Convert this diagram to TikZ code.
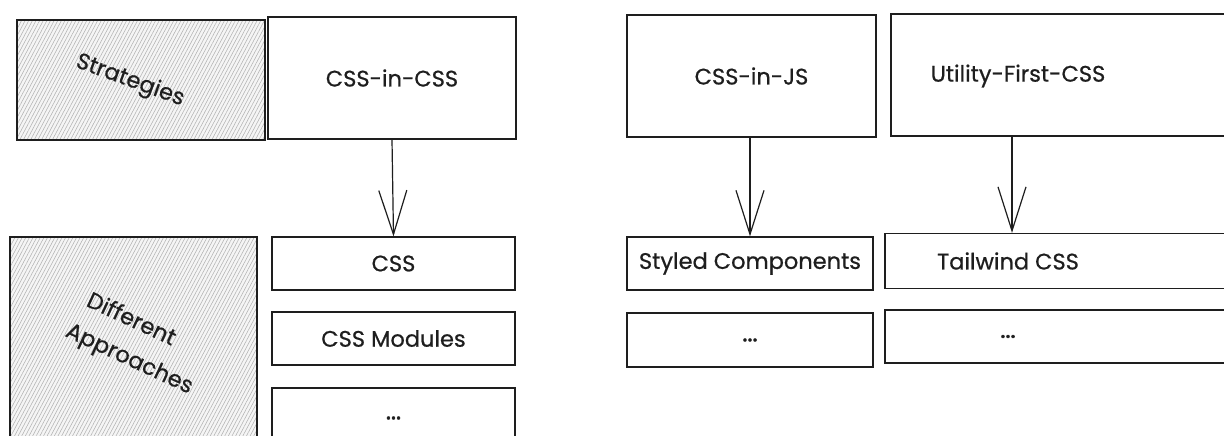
\documentclass[tikz,border=0pt]{standalone}
\usepackage{fontspec}
\setmainfont{Poppins}
\newfontfamily\hand{Poppins}[FakeBold=0.6]
\newfontfamily\handdots{Poppins}[FakeBold=2]
\usetikzlibrary{arrows.meta,patterns.meta}
\definecolor{ink}{HTML}{1E1E1E}
\begin{document}
\begin{tikzpicture}[x=1pt,y=-1pt,
  box/.style={draw=ink, line width=1.3pt, fill=white, inner sep=0pt, font=\hand\fontsize{22.5}{26}\selectfont, text=ink},
  dotsbox/.style={box, font=\handdots\fontsize{24}{26}\selectfont},
  hatch/.style={draw=ink, line width=1.3pt, inner sep=0pt, preaction={fill=gray!8},
    pattern={Lines[angle=62,distance=3.2pt,line width=0.55pt]}, pattern color=gray!60},
  lbl/.style={font=\hand\fontsize{22.5}{26}\selectfont, text=ink, align=center, inner sep=0pt},
  arr/.style={draw=ink, line width=1.2pt, -{Straight Barb[length=44pt,width=28pt,line width=1.2pt]}}]
\clip (0,0) rectangle (1224,436);
\fill[white] (0,0) rectangle (1224,436);
% left labels
\node[hatch, minimum width=248pt, minimum height=120pt] (strat) at (141,80) {};
\node[lbl, rotate=-20] (stratT) at (130,81) {Strategies};
\node[hatch, minimum width=247pt, minimum height=210pt] (diff) at (133.5,342) {};
\node[lbl, rotate=-25] (diffT1) at (132,318) {Different};
\node[lbl, rotate=-25] (diffT2) at (129,360) {Approaches};
% strategies
\node[box, minimum width=248pt, minimum height=122pt] (cic) at (392,78) {CSS-in-CSS};
\node[box, minimum width=249pt, minimum height=122pt] (cij) at (751.5,76) {CSS-in-JS};
\node[box, minimum width=360pt, minimum height=122pt] (ufc) at (1071,75) {};
\node[lbl] (ufcT) at (1018,76) {Utility-First-CSS};
% approaches
\node[box, minimum width=243pt, minimum height=53pt] (css) at (393.5,263.5) {CSS};
\node[box, minimum width=243pt, minimum height=53pt] (cssm) at (393.5,338.5) {CSS Modules};
\node[dotsbox, minimum width=243pt, minimum height=60pt] (cssd) at (393.5,418) {...};
\node[box, minimum width=246pt, minimum height=53pt] (sc) at (750,263.5) {Styled Components};
\node[dotsbox, minimum width=246pt, minimum height=54pt] (scd) at (750,340) {...};
\node[box, minimum width=360pt, minimum height=55pt] (tw) at (1065,261) {};
\node[lbl] (twT) at (1008,261) {Tailwind CSS};
\node[box, minimum width=360pt, minimum height=53pt] (twd) at (1065,336.5) {};
\node[lbl, font=\handdots\fontsize{24}{26}\selectfont] (twdT) at (1008,336.5) {...};
% arrows
\draw[arr] (cic.south) -- (css.north);
\draw[arr] (cij.south -| sc.north) -- (sc.north);
\coordinate (ax) at (1012,0);
\draw[arr] (ufc.south -| ax) -- (tw.north -| ax);
\end{tikzpicture}
\end{document}
